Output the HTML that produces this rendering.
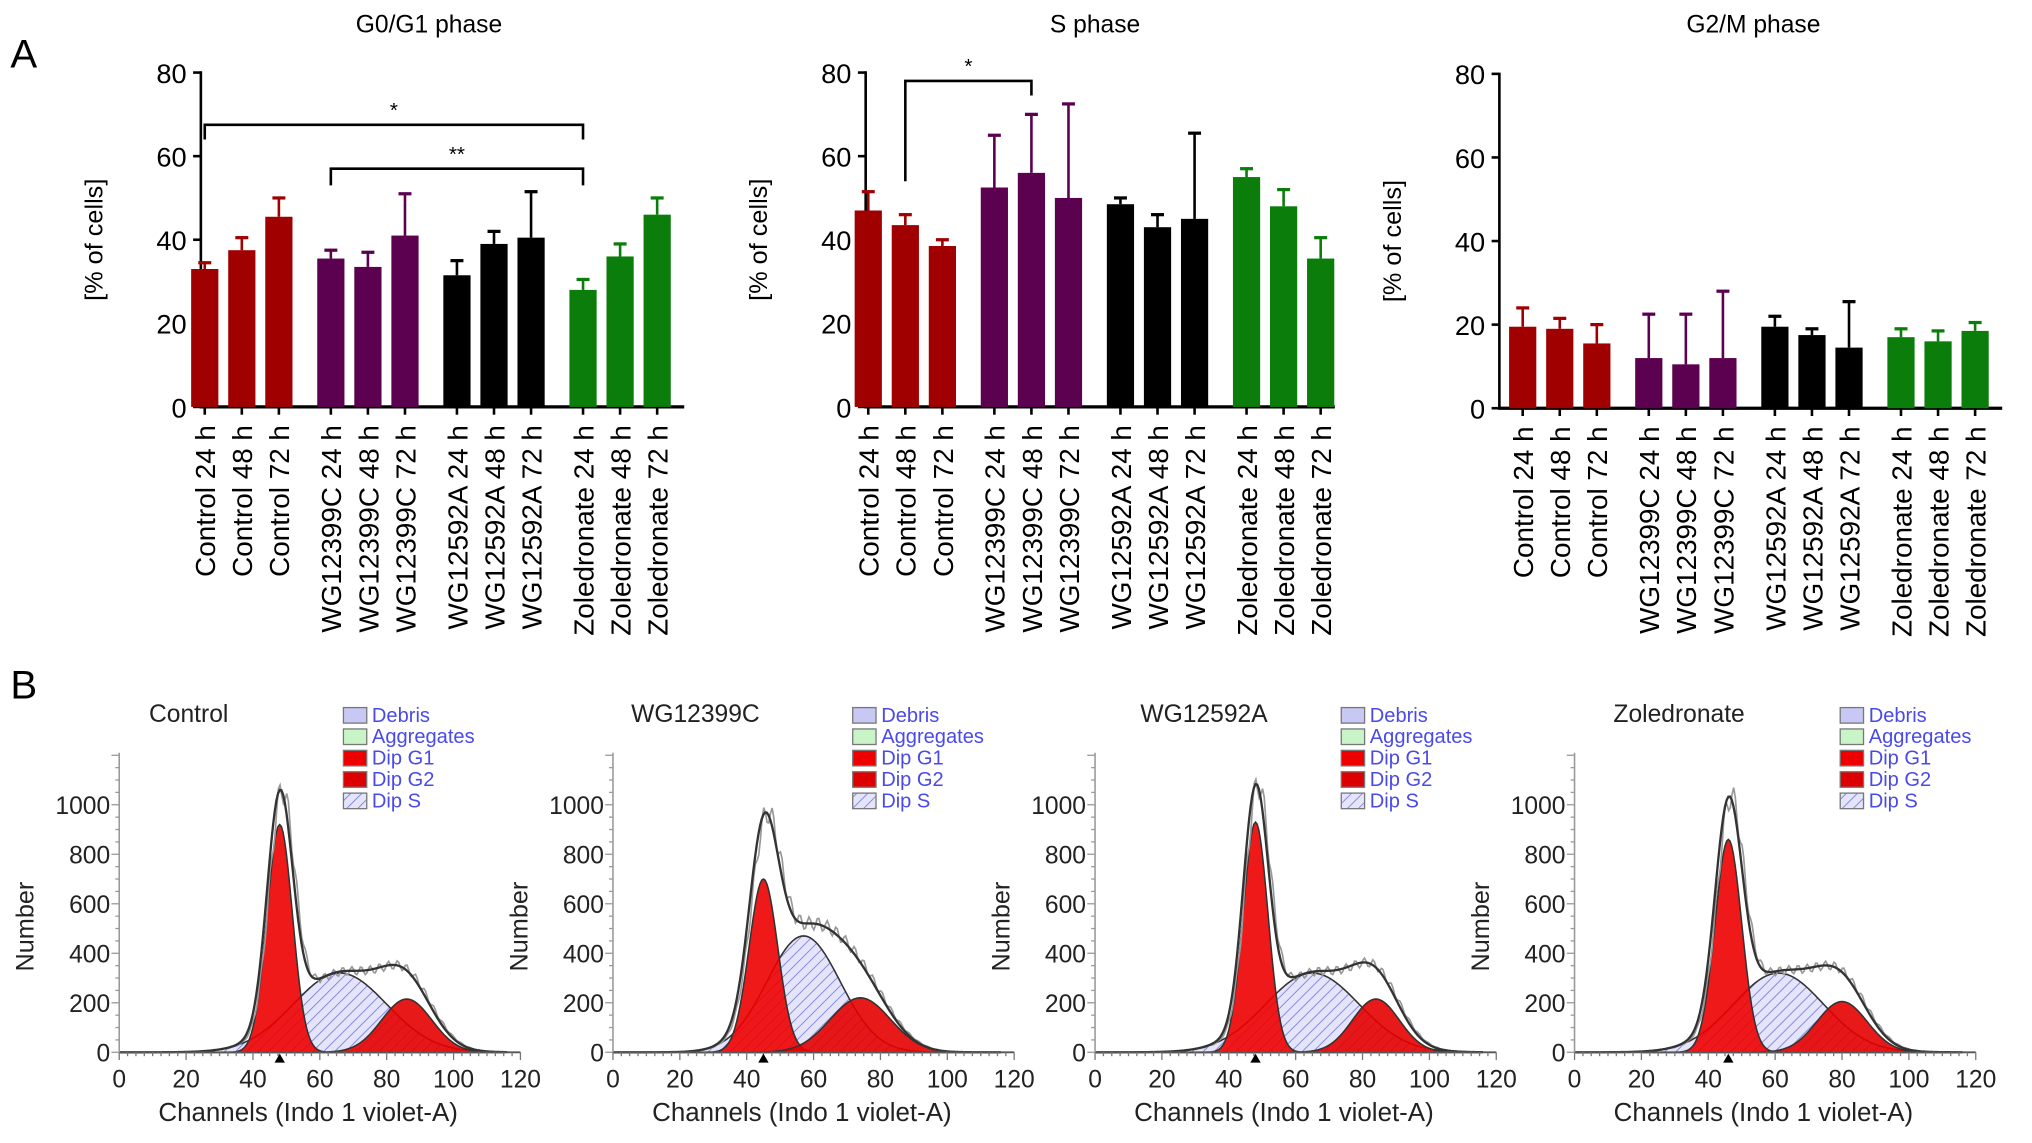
<!DOCTYPE html>
<html><head><meta charset="utf-8"><style>
html,body{margin:0;padding:0;background:#fff}
svg{display:block;font-family:"Liberation Sans",Arial,sans-serif}
</style></head><body>
<svg id="fig" width="2032" height="1143" viewBox="0 0 1568 882" xmlns="http://www.w3.org/2000/svg">
<defs>
<pattern id="hatch" width="6" height="6" patternUnits="userSpaceOnUse" patternTransform="rotate(45)">
<rect width="6" height="6" fill="#e4e4fb"/><line x1="0" y1="0" x2="0" y2="6" stroke="#7b7bd8" stroke-width="1.3"/></pattern>
</defs>
<text x="8" y="52" font-size="31">A</text>
<text x="8" y="539" font-size="31">B</text>
</svg>
<script>
const NS='http://www.w3.org/2000/svg';
const svg=document.getElementById('fig');
function mk(tag,attrs,parent){const e=document.createElementNS(NS,tag);for(const k in attrs)e.setAttribute(k,attrs[k]);(parent||svg).appendChild(e);return e;}

// ---------- Panel A data ----------
const categories=['Control 24 h','Control 48 h','Control 72 h','WG12399C 24 h','WG12399C 48 h','WG12399C 72 h','WG12592A 24 h','WG12592A 48 h','WG12592A 72 h','Zoledronate 24 h','Zoledronate 48 h','Zoledronate 72 h'];
const yTicks=[0,20,40,60,80];
const g1Values=[33,37.5,45.5,35.5,33.5,41,31.5,39,40.5,28,36,46];
const g1Errors=[1.5,3,4.5,2,3.5,10,3.5,3,11,2.5,3,4];
const sValues=[47,43.5,38.5,52.5,56,50,48.5,43,45,55,48,35.5];
const sErrors=[4.5,2.5,1.5,12.5,14,22.5,1.5,3,20.5,2,4,5];
const g2Values=[19.5,19,15.5,12,10.5,12,19.5,17.5,14.5,17,16,18.5];
const g2Errors=[4.5,2.5,4.5,10.5,12,16,2.5,1.5,11,2,2.5,2];
const groupColors=['#a00000','#5c0050','#000000','#0a7d0a'];

const barPanels=[
 {name:'g0g1',title:'G0/G1 phase',vals:g1Values,errs:g1Errors,ax:155,x0:158,y0:314,y80:56,xend:528,tx:331,
  brackets:[{a:0,b:9,y:67.5,la:64,lb:64,lab:'*'},{a:3,b:9,y:57,la:53,lb:53,lab:'**'}]},
 {name:'s',title:'S phase',vals:sValues,errs:sErrors,ax:668,x0:670,y0:314,y80:56,xend:1030,tx:845,
  brackets:[{a:1,b:4,y:78,la:54,lb:74.5,lab:'*'}]},
 {name:'g2m',title:'G2/M phase',vals:g2Values,errs:g2Errors,ax:1157,x0:1175,y0:315,y80:57,xend:1545,tx:1353,brackets:[]}
];
const slot=28.6, groupGap=11.5;
barPanels.forEach(p=>{
 const g=mk('g',{});
 
 
 const Y=v=>p.y0-(p.y0-p.y80)*v/80;
 const X=i=>p.x0+i*slot+Math.floor(i/3)*groupGap;
 const t=mk('text',{x:p.tx,y:25,'font-size':19,'text-anchor':'middle'},g);t.textContent=p.title;
 
 const yl=mk('text',{transform:`translate(${p.ax-76},${(p.y0+p.y80)/2}) rotate(-90)`,'font-size':19.5,'text-anchor':'middle'},g);yl.textContent='[% of cells]';
 
 mk('line',{x1:p.ax,y1:p.y80-1,x2:p.ax,y2:p.y0+1,stroke:'#000','stroke-width':2},g);
 mk('line',{x1:p.ax-1,y1:p.y0,x2:p.xend,y2:p.y0,stroke:'#000','stroke-width':2.5},g);
 yTicks.forEach(v=>{mk('line',{x1:p.ax-6,y1:Y(v),x2:p.ax,y2:Y(v),stroke:'#000','stroke-width':2},g);
  const tt=mk('text',{x:p.ax-11,y:Y(v)+8,'font-size':21,'text-anchor':'end'},g);tt.textContent=v;
  });
 p.vals.forEach((v,i)=>{
  const c=groupColors[Math.floor(i/3)],x=X(i);
  const r=mk('rect',{x:x-10.5,y:Y(v),width:21,height:p.y0-Y(v),fill:c},g);
  
  const e=p.errs[i];
  mk('line',{x1:x,y1:Y(v),x2:x,y2:Y(v+e),stroke:c,'stroke-width':2},g);
  mk('line',{x1:x-5,y1:Y(v+e),x2:x+5,y2:Y(v+e),stroke:c,'stroke-width':2.5},g);
  mk('line',{x1:x,y1:p.y0,x2:x,y2:p.y0+6,stroke:'#000','stroke-width':2},g);
  const tl=mk('text',{transform:`translate(${x+8},${p.y0+14}) rotate(-90)`,'font-size':21.5,'text-anchor':'end'},g);tl.textContent=categories[i];
  
 });
 p.brackets.forEach(b=>{
  const xa=X(b.a),xb=X(b.b);
  const pl=mk('polyline',{points:`${xa},${Y(b.la)} ${xa},${Y(b.y)} ${xb},${Y(b.y)} ${xb},${Y(b.lb)}`,fill:'none',stroke:'#000','stroke-width':2},g);
  
  const st=mk('text',{x:(xa+xb)/2,y:Y(b.y)-6,'font-size':16,'text-anchor':'middle'},g);st.textContent=b.lab;
  
 });
});

// ---------- Panel B data ----------
const histTitles=['Control','WG12399C','WG12592A','Zoledronate'];
const g1Mean=[48,45,48,46], g1Height=[920,700,930,860], g1Sd=[3.8,4.3,3.7,4];
const sMean=[66,57,65,61], sHeight=[320,470,320,320], sSd=[14,11,14,13.5];
const g2Mean=[86,74,84,80], g2Height=[215,220,215,205], g2Sd=[7.5,9,7,7.5];
const xTicks=[0,20,40,60,80,100,120];
const hyTicks=[0,200,400,600,800,1000];
const legendItems=['Debris','Aggregates','Dip G1','Dip G2','Dip S'];
const legendFills=['#c8c8f4','#c8f4c8','#ee0000','#dd0000','url(#hatch)'];
const histX0=[92,473,845,1215], titleX=[115,487,880,1245], legendX=[265,658,1035,1420];

histTitles.forEach((name,k)=>{
 const g=mk('g',{});
 
 
 const x0=histX0[k],y0=812,sx=2.58,sy=0.191;
 const X=c=>x0+c*sx,Y=n=>y0-n*sy;
 const gauss=(c,m,h,s)=>h*Math.exp(-0.5*((c-m)/s)**2);
 const G1=c=>gauss(c,g1Mean[k],g1Height[k],g1Sd[k]);
 const S=c=>gauss(c,sMean[k],sHeight[k],sSd[k]);
 const G2=c=>gauss(c,g2Mean[k],g2Height[k],g2Sd[k]);
 const area=(f,col,nm)=>{let d=`M${X(20)},${Y(0)}`;for(let c=20;c<=115;c+=0.5)d+=` L${X(c)},${Y(f(c))}`;d+=` L${X(115)},${Y(0)}Z`;
  const pth=mk('path',{d,fill:col,stroke:'#333','stroke-width':1.2},g);};
 area(S,'url(#hatch)','dip-s-area');
 area(G1,'rgba(238,0,0,0.9)','dip-g1-area');
 area(G2,'rgba(230,0,0,0.9)','dip-g2-area');
 let d1='',d2='';
 for(let c=0;c<=116;c+=0.5){const t=G1(c)+S(c)+G2(c);d1+=(c?' L':'M')+X(c)+','+Y(t);
  d2+=(c?' L':'M')+X(c+0.6)+','+Y(t*(1+0.05*Math.sin(c*2.3)));}
 const raw=mk('path',{d:d2,fill:'none',stroke:'#999','stroke-width':1.3},g);
 const tot=mk('path',{d:d1,fill:'none',stroke:'#333','stroke-width':1.8},g);
 mk('line',{x1:x0,y1:y0,x2:X(120),y2:y0,stroke:'#555','stroke-width':1.5},g);
 mk('line',{x1:x0,y1:y0,x2:x0,y2:Y(1210),stroke:'#999','stroke-width':1.2},g);
 for(let c=0;c<=120;c+=2.5)mk('line',{x1:X(c),y1:y0,x2:X(c),y2:y0+(c%20===0?6:3),stroke:'#777','stroke-width':1},g);
 for(let n=0;n<=1200;n+=50)mk('line',{x1:x0-(n%200===0?6:3),y1:Y(n),x2:x0,y2:Y(n),stroke:'#999','stroke-width':1},g);
 xTicks.forEach(v=>{const t=mk('text',{x:X(v),y:y0+27,'font-size':19,'text-anchor':'middle',fill:'#222'},g);t.textContent=v;
  });
 hyTicks.forEach(v=>{const t=mk('text',{x:x0-7,y:Y(v)+7,'font-size':19,'text-anchor':'end',fill:'#222'},g);t.textContent=v;
  });
 mk('polygon',{points:`${X(g1Mean[k])-4},${y0+8} ${X(g1Mean[k])+4},${y0+8} ${X(g1Mean[k])},${y0+1}`,fill:'#000'},g);
 const tt=mk('text',{x:titleX[k],y:557,'font-size':19,fill:'#222'},g);tt.textContent=name;
 
 const yl=mk('text',{transform:`translate(${x0-66},715) rotate(-90)`,'font-size':19.5,'text-anchor':'middle',fill:'#222'},g);yl.textContent='Number';
 
 const xl=mk('text',{x:X(56.5),y:865,'font-size':20,'text-anchor':'middle',fill:'#222'},g);xl.textContent='Channels (Indo 1 violet-A)';
 
 legendItems.forEach((it,j)=>{const ly=545+j*16.5;
  mk('rect',{x:legendX[k],y:ly+1,width:18,height:12,fill:legendFills[j],stroke:'#777','stroke-width':1},g);
  const lt=mk('text',{x:legendX[k]+22,y:ly+12,'font-size':15.5,fill:'#4a4ae8'},g);lt.textContent=it;
  });
});
</script>
</body></html>
